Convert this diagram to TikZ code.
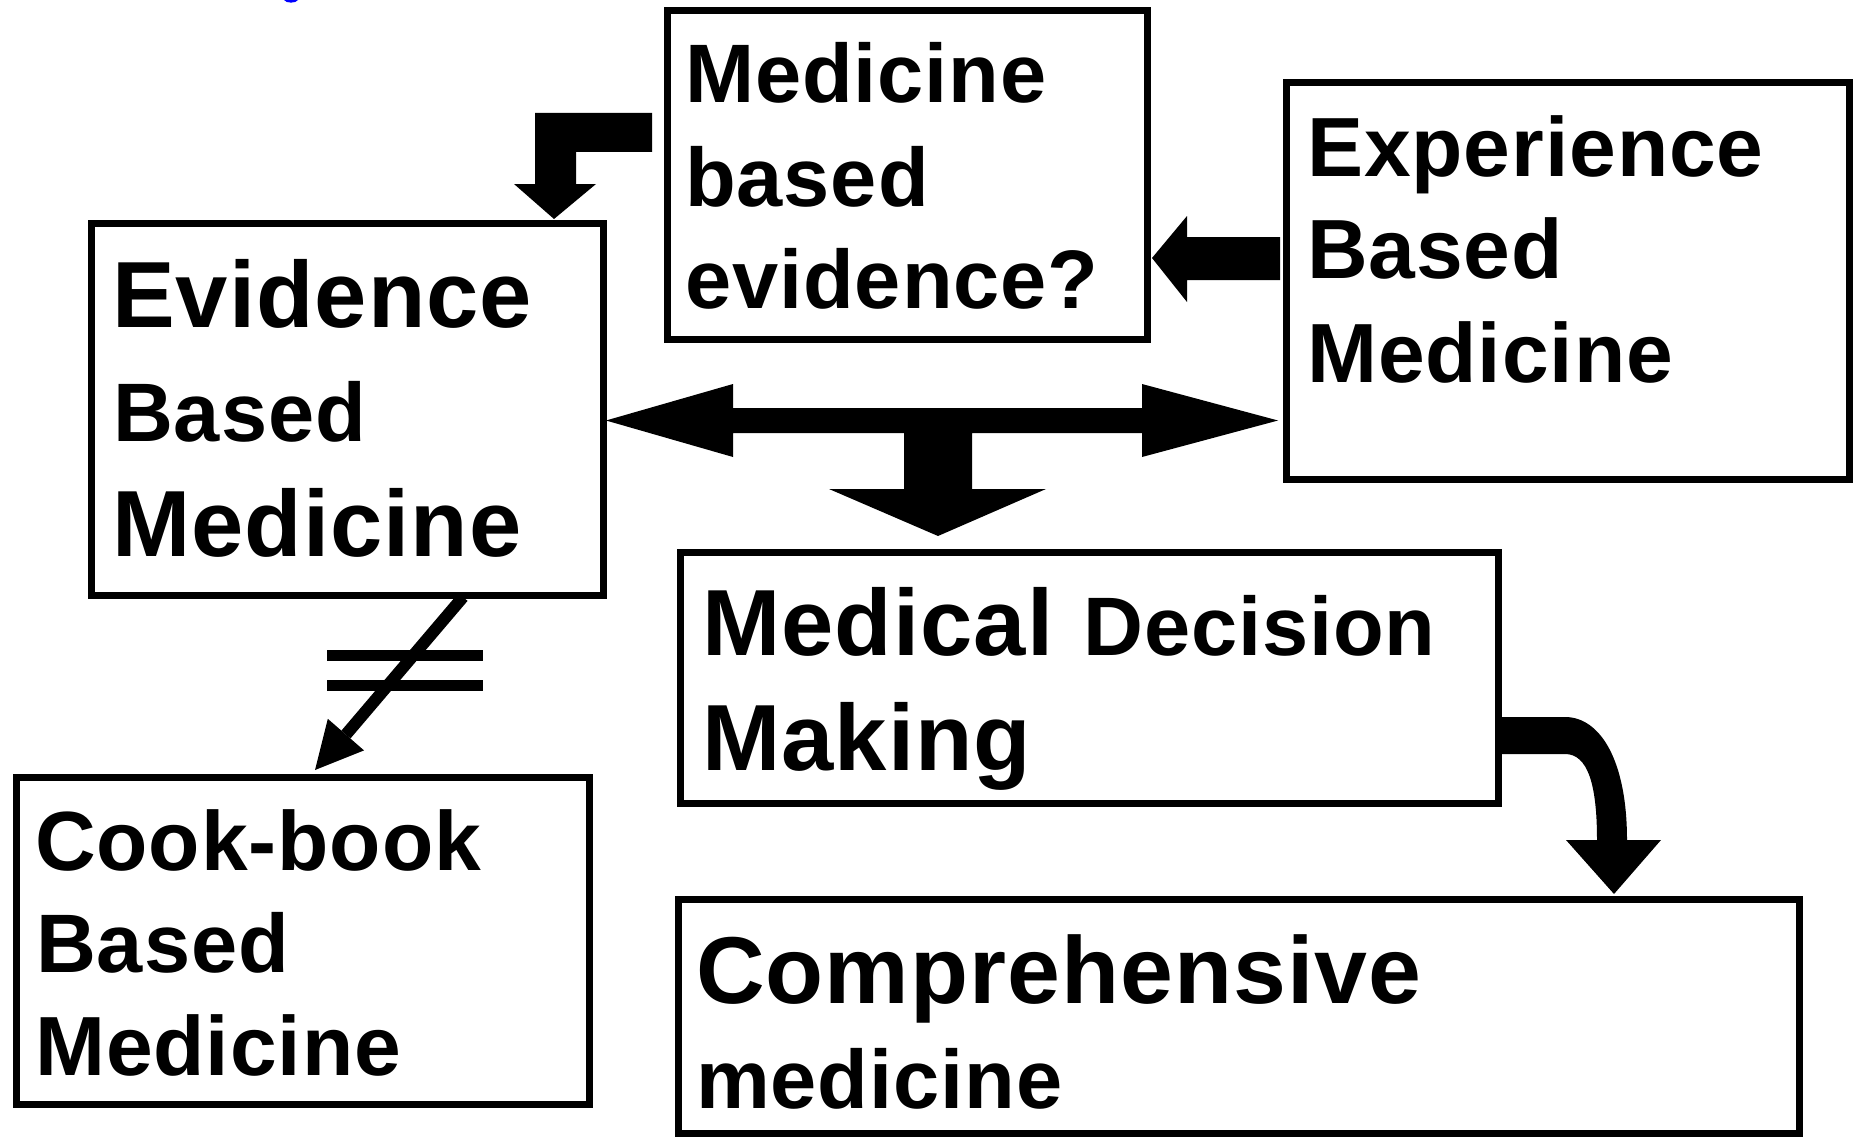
\documentclass[tikz,border=0pt]{standalone}
\usepackage{fontspec}
\setmainfont{Liberation Sans}[LetterSpace=1.1]
\begin{document}
\begin{tikzpicture}[x=1pt,y=-1pt,
  box/.style={draw=black, line width=7pt, rectangle, inner sep=0pt},
  lbl/.style={anchor=base west, inner sep=0pt, font=\bfseries\fontsize{#1}{#1}\selectfont},
  blockarrow/.style={fill=black, draw=none}]
\useasboundingbox (0,0) rectangle (1853,1137);
\fill[white] (0,0) rectangle (1853,1137);
% boxes
\node[box, minimum width=512pt, minimum height=372pt] (ebm) at (347,409) {};
\node[box, minimum width=480pt, minimum height=328pt] (mbe) at (907,175) {};
\node[box, minimum width=563pt, minimum height=396pt] (exp) at (1567.5,281) {};
\node[box, minimum width=818pt, minimum height=251pt] (mdm) at (1089,677.5) {};
\node[box, minimum width=573pt, minimum height=327pt] (cbm) at (302.5,940.5) {};
\node[box, minimum width=1121pt, minimum height=234pt] (cmp) at (1238.5,1016) {};
% texts
\node[lbl=94] (ebm1) at (112,327) {Evidence};
\node[lbl=83] (ebm2) at (113,441) {Based};
\node[lbl=94] (ebm3) at (112,556) {Medicine};
\node[lbl=83] (mbe1) at (685,103) {Medicine};
\node[lbl=83] (mbe2) at (685,206) {based};
\node[lbl=83] (mbe3) at (685,308) {evidence?};
\node[lbl=84] (exp1) at (1307,176) {Experience};
\node[lbl=84] (exp2) at (1307,278) {Based};
\node[lbl=84] (exp3) at (1307,382) {Medicine};
\node[lbl=94] (mdm1) at (702,655) {Medical\hspace{3pt} {\fontsize{83}{83}\selectfont Decision}};
\node[lbl=94] (mdm2) at (702,770) {Making};
\node[lbl=84] (cbm1) at (35,870) {Cook-book};
\node[lbl=83] (cbm2) at (36,972) {Based};
\node[lbl=84] (cbm3) at (35,1075) {Medicine};
\node[lbl=95] (cmp1) at (696,1003) {Comprehensive};
\node[lbl=83] (cmp2) at (696,1108) {medicine};
% L-shaped arrow from MBE to EBM
\fill[blockarrow] (652,113) -- (535,113) -- (535,184) -- (514,184) -- (554,219)
  -- (596,184) -- (576,184) -- (576,152) -- (652,152) -- cycle;
% arrow Experience -> MBE
\fill[blockarrow] (1152,258) -- (1187,216) -- (1187,237) -- (1280,237)
  -- (1280,280) -- (1187,280) -- (1187,302) -- cycle;
% double arrow with T down to MDM
\fill[blockarrow] (606,420.5) -- (733,384) -- (733,408) -- (1142,408) -- (1142,384)
  -- (1278,420.5) -- (1142,457) -- (1142,433) -- (972,433) -- (972,489)
  -- (1046,489) -- (938,536) -- (829,489) -- (904,489) -- (904,433)
  -- (733,433) -- (733,457) -- cycle;
% not-equal arrow EBM -> Cook-book
\coordinate (neS) at (463,597);
\coordinate (neB) at (345.9,734.6);
\draw[line width=12pt] (neS) -- (neB);
\fill[blockarrow] (315,770) -- (327.8,718.8) -- (364,750.4) -- cycle;
\fill[black] (327,650) rectangle (483,661);
\fill[black] (327,680) rectangle (483,691);
% curved arrow MDM -> Comprehensive
\fill[blockarrow] (1501,717) -- (1565,717) .. controls (1600,717) and (1627,760) .. (1627,840)
  -- (1661,840) -- (1614,894) -- (1566,840) -- (1597,840)
  .. controls (1597,785) and (1588,754) .. (1565,754) -- (1501,754) -- cycle;
% cut-off blue fragment at top
\fill[blue] (284,0) .. controls (286,3.5) and (296,3.5) .. (298,0) -- cycle;
\end{tikzpicture}
\end{document}
